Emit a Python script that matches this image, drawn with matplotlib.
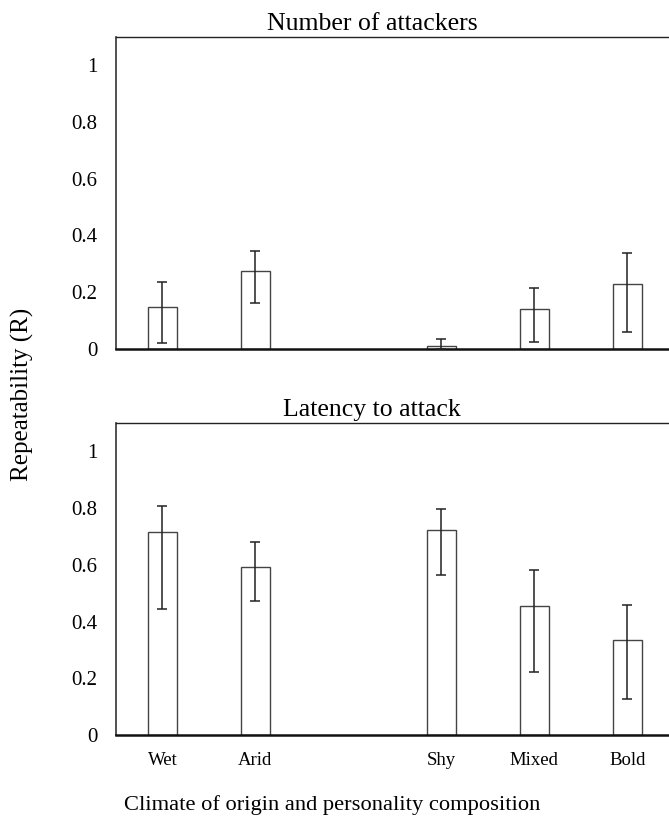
import numpy as np
import matplotlib
matplotlib.use("Agg")
import matplotlib.pyplot as plt

plt.rcParams['font.family'] = ['Liberation Serif', 'DejaVu Serif']

# categories (a blank slot between climate and personality groups)
labels = ['Wet', 'Arid', 'Shy', 'Mixed', 'Bold']
slots = [0, 1, 3, 4, 5]

# Number of attackers: R, upper and lower CI
att_r = [0.148, 0.274, 0.008, 0.141, 0.229]
att_hi = [0.235, 0.346, 0.035, 0.214, 0.338]
att_lo = [0.019, 0.161, 0.0, 0.024, 0.060]

# Latency to attack
lat_r = [0.714, 0.594, 0.723, 0.455, 0.336]
lat_hi = [0.809, 0.682, 0.797, 0.582, 0.459]
lat_lo = [0.445, 0.472, 0.564, 0.221, 0.127]

yticks = [0, 0.2, 0.4, 0.6, 0.8, 1]
yticklabels = ['0', '0.2', '0.4', '0.6', '0.8', '1']

fig = plt.figure(figsize=(6.69, 8.22), dpi=100)
ax1 = fig.add_axes([0.1734, 0.576, 0.8266, 0.379])
ax2 = fig.add_axes([0.1734, 0.1058, 0.8266, 0.3796])


def draw_panel(ax, r, hi, lo, title, show_x):
    r = np.array(r)
    err = [r - np.array(lo), np.array(hi) - r]
    ax.bar(slots, r, width=0.31, color='white', edgecolor='#444444', linewidth=1.0, zorder=2)
    ax.errorbar(slots, r, yerr=err, fmt='none', ecolor='#222222', elinewidth=1.1,
                capsize=3.6, capthick=1.1, zorder=3)
    ax.set_xlim(-0.5, 5.45)
    ax.set_ylim(0, 1.1)
    ax.set_yticks(yticks)
    ax.set_yticklabels(yticklabels)
    ax.tick_params(axis='y', length=0, pad=13.5, labelsize=15)
    if show_x:
        ax.set_xticks(slots)
        ax.set_xticklabels(labels)
        ax.tick_params(axis='x', length=0, pad=12, labelsize=13.5)
    else:
        ax.set_xticks([])
    ax.spines['right'].set_visible(False)
    ax.spines['left'].set_color('#333333')
    ax.spines['left'].set_linewidth(1.2)
    ax.spines['top'].set_color('#222222')
    ax.spines['top'].set_linewidth(1.0)
    ax.spines['bottom'].set_color('#111111')
    ax.spines['bottom'].set_linewidth(1.8)
    ax.set_title(title, x=0.463, fontsize=18.5, pad=5)


draw_panel(ax1, att_r, att_hi, att_lo, 'Number of attackers', False)
draw_panel(ax2, lat_r, lat_hi, lat_lo, 'Latency to attack', True)

fig.text(0.033, 0.52, 'Repeatability (R)', rotation=90, ha='center', va='center', fontsize=18)
fig.text(0.497, 0.008, 'Climate of origin and personality composition', ha='center',
         va='bottom', fontsize=16.2)

fig.savefig('out.png', dpi=100)
